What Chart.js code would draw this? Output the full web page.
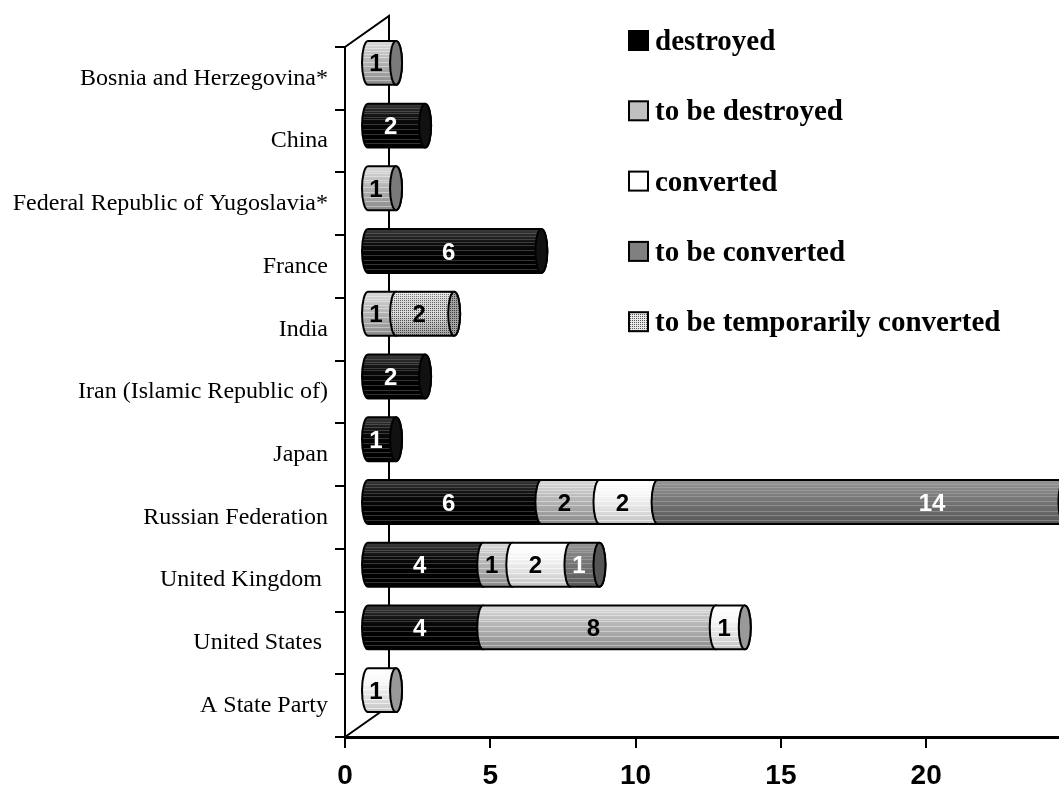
<!DOCTYPE html>
<html>
<head>
<meta charset="utf-8">
<script src="https://cdn.jsdelivr.net/npm/chart.js@4.4.1/dist/chart.umd.min.js"></script>
<style>
    html, body { margin: 0; padding: 0; background: #fff; }
    #wrap { width: 1059px; height: 788px; }
</style>
</head>
<body>
<div id="wrap"><canvas id="chart" width="1059" height="788"></canvas></div>
<script>
const categories = [
    'Bosnia and Herzegovina*',
    'China',
    'Federal Republic of Yugoslavia*',
    'France',
    'India',
    'Iran (Islamic Republic of)',
    'Japan',
    'Russian Federation',
    'United Kingdom ',
    'United States ',
    'A State Party',
];

const seriesNames   = ['destroyed', 'to be destroyed', 'converted', 'to be converted', 'to be temporarily converted'];
const destroyed     = [0, 2, 0, 6, 0, 2, 1, 6, 4, 4, 0];
const toBeDestroyed = [1, 0, 1, 0, 1, 0, 0, 2, 1, 8, 0];
const converted     = [0, 0, 0, 0, 0, 0, 0, 2, 2, 1, 1];
const toBeConverted = [0, 0, 0, 0, 0, 0, 0, 14, 1, 0, 0];
const tempConverted = [0, 0, 0, 0, 2, 0, 0, 0, 0, 0, 0];

const xTicks = [0, 5, 10, 15, 20];
const X_MAX  = 24.57;

// 3D look: side wall depth, cylinders sit half way in
const DEPTH_X = 44;
const DEPTH_Y = 31;
const CAP_RX  = 6;
const STREAKS = [0.1, 0.16, 0.22, 0.3, 0.36, 0.47, 0.58, 0.7, 0.8, 0.9];

const SERIF = '"Liberation Serif", "Times New Roman", serif';
const SANS  = '"Liberation Sans", Arial, sans-serif';

function dotPattern(ctx) {
    const c = document.createElement('canvas');
    c.width = 2; c.height = 2;
    const p = c.getContext('2d');
    p.fillStyle = '#e8e8e8';
    p.fillRect(0, 0, 2, 2);
    p.fillStyle = '#5a5a5a';
    p.fillRect(0, 0, 1, 1);
    return ctx.createPattern(c, 'repeat');
}

const canvas = document.getElementById('chart');
const ctx0 = canvas.getContext('2d');
const DOTS = dotPattern(ctx0);

const STYLES = [
    { stops: ['#3c3c3c', '#0c0c0c', '#000', '#000'], cap: '#111', text: '#fff', swatch: '#000', streak: 'rgba(130,130,130,0.4)' },
    { stops: ['#dadada', '#bebebe', '#a6a6a6', '#8a8a8a'], cap: '#7a7a7a', text: '#000', swatch: '#c0c0c0', streak: 'rgba(255,255,255,0.4)' },
    { stops: ['#ffffff', '#f6f6f6', '#e0e0e0', '#c2c2c2'], cap: '#999', text: '#000', swatch: '#fff', streak: 'rgba(255,255,255,0.6)' },
    { stops: ['#979797', '#7e7e7e', '#6a6a6a', '#575757'], cap: '#555', text: '#fff', swatch: '#808080', streak: 'rgba(180,180,180,0.45)' },
    { pattern: true, cap: '#8a8a8a', text: '#000', swatch: DOTS, streak: null },
];

function segmentPath(ctx, x0, x1, cy, ry) {
    ctx.beginPath();
    ctx.moveTo(x0, cy - ry);
    ctx.lineTo(x1, cy - ry);
    ctx.ellipse(x1, cy, CAP_RX, ry, 0, -Math.PI / 2, Math.PI / 2);
    ctx.lineTo(x0, cy + ry);
    ctx.ellipse(x0, cy, CAP_RX, ry, 0, Math.PI / 2, Math.PI * 1.5);
    ctx.closePath();
}

function fillSegment(ctx, st, x0, x1, cy, ry) {
    segmentPath(ctx, x0, x1, cy, ry);
    ctx.save();
    ctx.clip();
    if (st.pattern) {
        ctx.fillStyle = DOTS;
        ctx.fillRect(x0 - CAP_RX, cy - ry, x1 - x0 + 2 * CAP_RX, 2 * ry);
        const g = ctx.createLinearGradient(0, cy - ry, 0, cy + ry);
        g.addColorStop(0, 'rgba(255,255,255,0.25)');
        g.addColorStop(0.5, 'rgba(0,0,0,0.05)');
        g.addColorStop(1, 'rgba(0,0,0,0.3)');
        ctx.fillStyle = g;
        ctx.fillRect(x0 - CAP_RX, cy - ry, x1 - x0 + 2 * CAP_RX, 2 * ry);
    } else {
        const g = ctx.createLinearGradient(0, cy - ry, 0, cy + ry);
        st.stops.forEach((c, i) => g.addColorStop(i / (st.stops.length - 1), c));
        ctx.fillStyle = g;
        ctx.fillRect(x0 - CAP_RX, cy - ry, x1 - x0 + 2 * CAP_RX, 2 * ry);
        ctx.strokeStyle = st.streak;
        ctx.lineWidth = 1;
        STREAKS.forEach(f => {
            const y = Math.round(cy - ry + f * 2 * ry) + 0.5;
            ctx.beginPath();
            ctx.moveTo(x0 - CAP_RX, y);
            ctx.lineTo(x1 + CAP_RX, y);
            ctx.stroke();
        });
    }
    ctx.restore();
    segmentPath(ctx, x0, x1, cy, ry);
    ctx.strokeStyle = '#000';
    ctx.lineWidth = 2;
    ctx.stroke();
}

function drawCap(ctx, st, x, cy, ry) {
    ctx.beginPath();
    ctx.ellipse(x, cy, CAP_RX, ry, 0, 0, Math.PI * 2);
    if (st.pattern) {
        ctx.fillStyle = DOTS;
        ctx.fill();
        ctx.fillStyle = 'rgba(0,0,0,0.3)';
    } else {
        ctx.fillStyle = st.cap;
    }
    ctx.fill();
    ctx.strokeStyle = '#000';
    ctx.lineWidth = 2;
    ctx.stroke();
}

const cylinders = {
    id: 'cylinders',
    beforeDatasetsDraw(chart) {
        // side wall of the 3D box
        const { ctx, chartArea: a } = chart;
        ctx.save();
        ctx.strokeStyle = '#000';
        ctx.lineWidth = 2;
        ctx.beginPath();
        ctx.moveTo(a.left, a.top);
        ctx.lineTo(a.left + DEPTH_X, a.top - DEPTH_Y);
        ctx.lineTo(a.left + DEPTH_X, a.bottom - DEPTH_Y);
        ctx.lineTo(a.left, a.bottom);
        ctx.stroke();
        ctx.restore();
    },
    afterDatasetsDraw(chart) {
        const ctx = chart.ctx;
        const dx = DEPTH_X / 2, dy = -DEPTH_Y / 2;
        ctx.save();
        categories.forEach((_, j) => {
            const segs = [];
            chart.data.datasets.forEach((ds, i) => {
                if (!ds.data[j]) return;
                const el = chart.getDatasetMeta(i).data[j];
                const p = el.getProps(['x', 'y', 'base', 'height'], true);
                segs.push({ i, v: ds.data[j], x0: p.base + dx, x1: p.x + dx, cy: p.y + dy, ry: p.height / 2 });
            });
            segs.forEach(s => fillSegment(ctx, STYLES[s.i], s.x0, s.x1, s.cy, s.ry));
            const last = segs[segs.length - 1];
            if (last) drawCap(ctx, STYLES[last.i], last.x1, last.cy, last.ry);

            ctx.font = 'bold 24px ' + SANS;
            ctx.textAlign = 'center';
            ctx.textBaseline = 'middle';
            segs.forEach(s => {
                // a segment running past the axis end keeps its label near the visible end
                const right = Math.min(s.x1, chart.width);
                const x = s.x1 > chart.width ? right - 127 : (s.x0 + right) / 2 - CAP_RX;
                ctx.fillStyle = STYLES[s.i].text;
                ctx.fillText(String(s.v), x, s.cy + 2);
            });
        });
        ctx.restore();
    },
    afterDraw(chart) {
        // legend, drawn beside the bars
        const ctx = chart.ctx;
        ctx.save();
        ctx.font = 'bold 29px ' + SERIF;
        ctx.textAlign = 'left';
        ctx.textBaseline = 'alphabetic';
        chart.data.datasets.forEach((ds, i) => {
            const y = 31 + i * 70.3;
            ctx.fillStyle = STYLES[i].swatch;
            ctx.fillRect(629, y, 19, 19);
            ctx.strokeStyle = '#000';
            ctx.lineWidth = 2;
            ctx.strokeRect(629, y, 19, 19);
            ctx.fillStyle = '#000';
            ctx.fillText(ds.label, 655, y + 19);
        });
        ctx.restore();
    },
};

const seriesData = [destroyed, toBeDestroyed, converted, toBeConverted, tempConverted];

new Chart(canvas, {
    type: 'bar',
    data: {
        labels: categories,
        datasets: seriesNames.map((name, i) => ({
            label: name,
            data: seriesData[i],
            backgroundColor: 'rgba(0,0,0,0)',
            borderWidth: 0,
            categoryPercentage: 1,
            barPercentage: 0.7,
        })),
    },
    options: {
        indexAxis: 'y',
        responsive: false,
        animation: false,
        devicePixelRatio: 1,
        layout: { padding: { top: 47, right: 0, bottom: 0, left: 0 } },
        plugins: { legend: { display: false }, tooltip: { enabled: false } },
        scales: {
            x: {
                stacked: true,
                min: 0,
                max: X_MAX,
                afterBuildTicks: s => { s.ticks = xTicks.map(v => ({ value: v })); },
                afterFit: s => { s.height = 51; },
                border: { color: '#000', width: 3 },
                grid: { drawOnChartArea: false, tickLength: 11, color: '#000', lineWidth: 2 },
                ticks: { color: '#000', padding: 11, font: { family: SANS, size: 28, weight: 'bold' } },
            },
            y: {
                stacked: true,
                afterFit: s => { s.width = 345; },
                border: { color: '#000', width: 2 },
                grid: { drawOnChartArea: false, tickLength: 10, color: '#000', lineWidth: 2, offset: true },
                ticks: { color: '#000', padding: 7, font: { family: SERIF, size: 24 } },
            },
        },
    },
    plugins: [cylinders],
});
</script>
</body>
</html>
